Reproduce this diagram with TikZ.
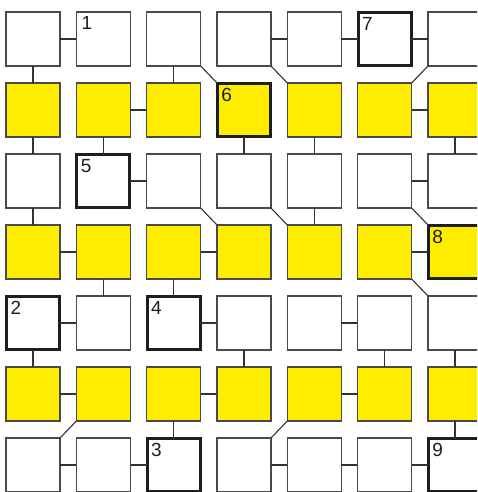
\documentclass[tikz,border=0pt]{standalone}
\usepackage{fontspec}
\setmainfont{Liberation Sans}
\definecolor{yel}{HTML}{FFED00}
\definecolor{edge}{HTML}{4A4A4A}
\definecolor{wire}{HTML}{333333}
\definecolor{keyedge}{HTML}{1E1E1E}
\expandafter\def\csname thk05\endcsname{}
\expandafter\def\csname thk13\endcsname{}
\expandafter\def\csname thk21\endcsname{}
\expandafter\def\csname thk36\endcsname{}
\expandafter\def\csname thk40\endcsname{}
\expandafter\def\csname thk42\endcsname{}
\expandafter\def\csname thk62\endcsname{}
\expandafter\def\csname thk66\endcsname{}
\begin{document}
\begin{tikzpicture}[x=1pt,y=-1pt,
  cell/.style={draw=edge,line width=1.1pt,minimum size=54pt,inner sep=0pt,outer sep=0pt},
  keycell/.style={draw=keyedge,line width=2.9pt,minimum size=53pt,inner sep=0pt,outer sep=0pt},
  lab/.style={inner sep=0pt,outer sep=0pt,anchor=north west,text=keyedge,font=\fontsize{19}{20}\selectfont},
  wirestyle/.style={draw=wire,line width=1.1pt}]
\useasboundingbox (0,0) rectangle (477,492);
\begin{scope}
\clip (0,0) rectangle (477,492);
% cells
\foreach \r in {0,...,6}{\foreach \c in {0,...,6}{
  \ifodd\r\def\fc{yel}\else\def\fc{white}\fi
  \ifcsname thk\r\c\endcsname\def\bs{keycell}\else\def\bs{cell}\fi
  \node[\bs,fill=\fc] (n\r\c) at ({33+70.33*\c},{39+71*\r}) {};
}}
% horizontal connectors
\foreach \r/\c [evaluate=\c as \d using int(\c+1)] in {0/0,0/3,0/4,0/5,1/1,1/5,2/1,2/5,3/0,3/2,3/5,4/0,4/2,4/4,5/0,5/2,5/4,6/0,6/1,6/3,6/4,6/5}
  \draw[wirestyle] (n\r\c.east) -- (n\r\d.west);
% vertical connectors
\foreach \r/\c [evaluate=\r as \s using int(\r+1)] in {0/0,0/2,1/0,1/1,1/3,1/4,1/6,2/0,2/4,3/1,3/2,4/0,4/3,4/5,4/6,5/2,5/6}
  \draw[wirestyle] (n\r\c.south) -- (n\s\c.north);
% diagonal connectors down-right
\foreach \r/\c [evaluate=\r as \s using int(\r+1), evaluate=\c as \d using int(\c+1)] in {0/2,0/3,2/2,2/3,2/5,3/5}
  \draw[wirestyle] (n\r\c.south east) -- (n\s\d.north west);
% diagonal connectors down-left
\foreach \r/\c [evaluate=\r as \s using int(\r+1), evaluate=\c as \d using int(\c-1)] in {0/6,5/1,5/4}
  \draw[wirestyle] (n\r\c.south west) -- (n\s\d.north east);
% labels
\node[lab] (l1) at ([shift={(5.2,4.8)}]n01.north west) {1};
\node[lab] (l2) at ([shift={(4,5.2)}]n40.north west) {2};
\node[lab] (l3) at ([shift={(4,5.2)}]n62.north west) {3};
\node[lab] (l4) at ([shift={(4,5.2)}]n42.north west) {4};
\node[lab] (l5) at ([shift={(4,5.2)}]n21.north west) {5};
\node[lab] (l6) at ([shift={(4,5.2)}]n13.north west) {6};
\node[lab] (l7) at ([shift={(4,5.2)}]n05.north west) {7};
\node[lab] (l8) at ([shift={(4,5.2)}]n36.north west) {8};
\node[lab] (l9) at ([shift={(4,5.2)}]n66.north west) {9};
\end{scope}
\end{tikzpicture}
\end{document}
